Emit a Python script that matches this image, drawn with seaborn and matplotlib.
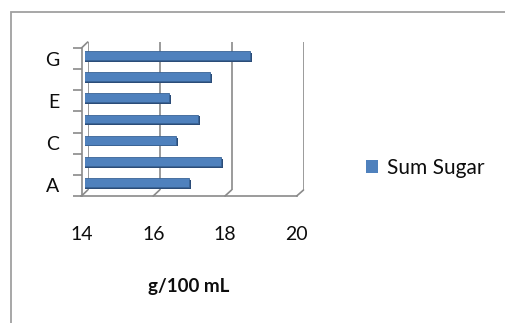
import numpy as np
import pandas as pd
import seaborn as sns
import matplotlib.pyplot as plt
import matplotlib.patheffects as pe
from matplotlib.lines import Line2D
from matplotlib.patches import Rectangle, Patch

# Sugar content per sample
categories = ['A', 'B', 'C', 'D', 'E', 'F', 'G']
sum_sugar = [16.9, 17.8, 16.55, 17.15, 16.35, 17.5, 18.6]
series_name = 'Sum Sugar'

x_ticks = [14, 16, 18, 20]
y_tick_labels = ['A', '', 'C', '', 'E', '', 'G']
x_label = 'g/100 mL'

sns.set_theme(style='white')
plt.rcParams['font.family'] = ['Lato', 'DejaVu Sans']

GRID = '#8a8a8a'
BAR = '#4f81bd'
TEXT = '#0d0d0d'

W, H = 505, 323
fig = plt.figure(figsize=(W / 100, H / 100), dpi=100)
fig.patch.set_facecolor('white')


def axes_px(left, right, top, bottom, **kw):
    return fig.add_axes([left / W, 1 - bottom / H, (right - left) / W, (bottom - top) / H], **kw)


# three planes give the 3-D look: back wall, bar plane, front axes
ax_back = axes_px(87.7, 303.5, 42, 190, zorder=0)
ax_bar = axes_px(84.5, 300.0, 45, 193, zorder=1)
ax_front = axes_px(81.5, 296.7, 48, 196, zorder=2)

for ax in (ax_back, ax_bar, ax_front):
    ax.set_facecolor('none')
    ax.set_xlim(14, 20)
    ax.set_ylim(-0.5, 6.5)

# back wall gridlines
ax_back.set_xticks(x_ticks)
ax_back.set_yticks([])
ax_back.tick_params(axis='x', length=0, labelbottom=False)
ax_back.grid(axis='x', color=GRID, linewidth=1.2)
for s in ax_back.spines.values():
    s.set_visible(False)

# bars
df = pd.DataFrame({'category': categories, 'value': sum_sugar})
sns.barplot(data=df, x='value', y='category', order=categories, orient='h',
            color=BAR, saturation=1, width=0.42, edgecolor='#3a6496',
            linewidth=0.6, ax=ax_bar)
ax_bar.set_xlim(14, 20)
ax_bar.set_ylim(-0.5, 6.5)
ax_bar.axis('off')
if ax_bar.get_legend() is not None:
    ax_bar.get_legend().remove()
for bar in ax_bar.patches:
    bar.set_path_effects([
        pe.SimplePatchShadow(offset=(1.6, -1.3), shadow_rgbFace='#2b4c78', alpha=1.0),
        pe.Normal(),
    ])

# front axes: ticks and labels
ax_front.spines['top'].set_visible(False)
ax_front.spines['right'].set_visible(False)
for side in ('left', 'bottom'):
    ax_front.spines[side].set_color(GRID)
    ax_front.spines[side].set_linewidth(1.2)
ax_front.set_xticks(x_ticks)
ax_front.set_xticklabels([str(t) for t in x_ticks])
ax_front.set_yticks(range(len(categories)))
ax_front.set_yticklabels(y_tick_labels)
ax_front.set_yticks(np.arange(-0.5, len(categories), 1.0), minor=True)
ax_front.tick_params(axis='x', which='major', direction='out', length=6.5, width=1.2,
                     color=GRID, pad=15, labelsize=14, labelcolor=TEXT)
ax_front.tick_params(axis='y', which='major', length=0, pad=16,
                     labelsize=14, labelcolor=TEXT)
ax_front.tick_params(axis='y', which='minor', direction='out', length=6.2,
                     width=1.2, color=GRID, left=True)
ax_front.set_xlabel(x_label, fontsize=13.5, fontweight='bold', color=TEXT, labelpad=25)

# depth edges joining the back wall to the front axes
to_fig = fig.transFigure.inverted()


def depth_edge(x, y):
    p0 = to_fig.transform(ax_back.transData.transform((x, y)))
    p1 = to_fig.transform(ax_front.transData.transform((x, y)))
    fig.add_artist(Line2D([p0[0], p1[0]], [p0[1], p1[1]], color=GRID,
                          linewidth=1.2, transform=fig.transFigure, zorder=1))


for v in x_ticks:
    depth_edge(v, -0.5)
depth_edge(14, 6.5)

# legend
fig.legend([Patch(facecolor=BAR, edgecolor='none')], [series_name], loc='center left',
           bbox_to_anchor=(347 / W, 1 - 168 / H), frameon=False,
           handlelength=0.6, handleheight=0.6, handletextpad=0.4,
           fontsize=15, labelcolor=TEXT)

# chart area border
fig.add_artist(Rectangle((11 / W, -0.2), 2.0, 1.2 - 12 / H, transform=fig.transFigure,
                         fill=False, edgecolor='#a0a0a0', linewidth=1.3))

fig.savefig('out.png', dpi=100)
